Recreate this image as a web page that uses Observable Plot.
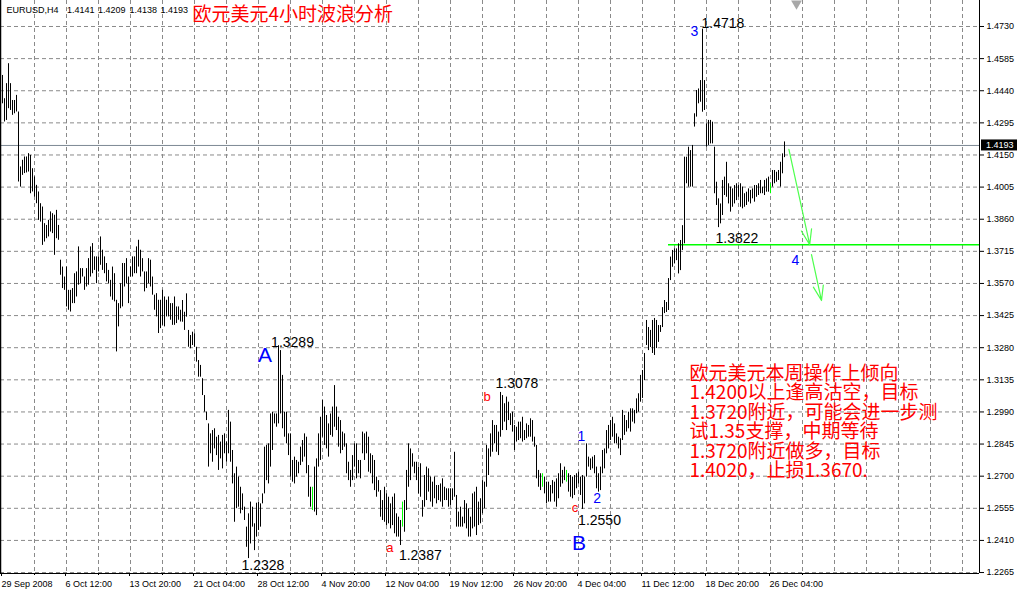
<!DOCTYPE html>
<html>
<head>
<meta charset="utf-8">
<script src="https://cdn.jsdelivr.net/npm/d3@7"></script>
<script src="https://cdn.jsdelivr.net/npm/@observablehq/plot@0.6"></script>
<style>
  html, body { margin: 0; padding: 0; background: #ffffff; }
  #chart svg { display: block; }
</style>
</head>
<body>
<div id="chart"></div>
<script>
// ---------------- DATA ----------------
const symbolName = "EURUSD,H4";
const headerOHLC = [1.4141, 1.4209, 1.4138, 1.4193];
const chartTitle = "欧元美元4小时波浪分析";

// H4 bar highs (bar index 0 = 29 Sep 2008 00:00)
const highs = [
  1.4509,1.4404,1.4472,1.4562,1.4472,1.4396,1.4396,1.4419,1.4344,1.4096,
  1.4126,1.4141,1.4141,1.4156,1.4148,1.4088,1.4051,1.4013,1.3983,1.3930,
  1.3915,1.3840,1.3832,1.3855,1.3893,1.3885,1.3878,1.3900,1.3832,1.3675,
  1.3644,1.3599,1.3644,1.3539,1.3539,1.3547,1.3614,1.3622,1.3735,1.3637,
  1.3637,1.3599,1.3637,1.3682,1.3735,1.3750,1.3690,1.3690,1.3690,1.3780,
  1.3720,1.3690,1.3660,1.3629,1.3584,1.3644,1.3614,1.3494,1.3479,1.3569,
  1.3660,1.3660,1.3682,1.3599,1.3644,1.3690,1.3690,1.3735,1.3765,1.3720,
  1.3682,1.3622,1.3622,1.3682,1.3675,1.3599,1.3517,1.3524,1.3494,1.3494,
  1.3539,1.3509,1.3494,1.3509,1.3479,1.3479,1.3509,1.3464,1.3464,1.3449,
  1.3493,1.3440,1.3523,1.3358,1.3335,1.3350,1.3343,1.3282,1.3222,1.3200,
  1.3140,1.3064,1.2989,1.2936,1.2891,1.2906,1.2914,1.2876,1.2884,1.2854,
  1.2884,1.2891,1.2854,1.2997,1.2944,1.2816,1.2711,1.2741,1.2696,1.2650,
  1.2620,1.2560,1.2470,1.2530,1.2583,1.2560,1.2485,1.2578,1.2583,1.2575,
  1.2620,1.2831,1.2839,1.2846,1.2981,1.2989,1.2981,1.2981,1.3289,1.3267,
  1.3155,1.2989,1.2989,1.2891,1.2891,1.2771,1.2786,1.2771,1.2763,1.2831,
  1.2861,1.2891,1.2876,1.2748,1.2650,1.2650,1.2741,1.2778,1.2891,1.2966,
  1.3042,1.3012,1.2974,1.2936,1.2981,1.3012,1.3109,1.3012,1.2966,1.2951,
  1.2899,1.2891,1.2846,1.2763,1.2726,1.2793,1.2846,1.2846,1.2771,1.2771,
  1.2899,1.2891,1.2899,1.2876,1.2801,1.2793,1.2771,1.2696,1.2680,1.2635,
  1.2590,1.2650,1.2620,1.2605,1.2575,1.2605,1.2620,1.2530,1.2515,1.2500,
  1.2583,1.2590,1.2726,1.2846,1.2823,1.2801,1.2763,1.2763,1.2741,1.2756,
  1.2590,1.2703,1.2741,1.2733,1.2696,1.2673,1.2696,1.2658,1.2658,1.2665,
  1.2688,1.2650,1.2643,1.2643,1.2643,1.2643,1.2808,1.2613,1.2538,1.2560,
  1.2515,1.2590,1.2575,1.2553,1.2515,1.2620,1.2628,1.2650,1.2583,1.2598,
  1.2680,1.2673,1.2839,1.2823,1.2891,1.2951,1.2929,1.2929,1.2899,1.3078,
  1.3064,1.3027,1.3057,1.3034,1.2982,1.2989,1.2929,1.2921,1.2944,1.2944,
  1.2966,1.2906,1.2936,1.2929,1.2959,1.2951,1.2876,1.2839,1.2726,1.2711,
  1.2711,1.2696,1.2673,1.2673,1.2658,1.2680,1.2673,1.2688,1.2711,1.2756,
  1.2726,1.2741,1.2726,1.2711,1.2703,1.2696,1.2703,1.2711,1.2718,1.2696,
  1.2703,1.2696,1.2846,1.2786,1.2778,1.2786,1.2793,1.2741,1.2711,1.2741,
  1.2816,1.2823,1.2906,1.2929,1.2951,1.2966,1.2936,1.2891,1.2876,1.2869,
  1.2997,1.2974,1.2951,1.2989,1.3004,1.3004,1.2997,1.3049,1.3072,1.3155,
  1.3177,1.3254,1.3403,1.3371,1.3358,1.3403,1.3412,1.3403,1.3380,1.3380,
  1.3461,1.3493,1.3484,1.3592,1.3689,1.3719,1.3726,1.3726,1.3749,1.3764,
  1.3831,1.4140,1.4140,1.4185,1.4170,1.4193,1.4336,1.4441,1.4448,1.4486,
  1.4718,1.4486,1.4291,1.4306,1.4306,1.4298,1.4185,1.4027,1.3952,1.3929,
  1.4035,1.4050,1.4117,1.4020,1.4005,1.3997,1.4012,1.4020,1.4012,1.4020,
  1.4005,1.3975,1.3982,1.3997,1.3990,1.3997,1.4012,1.4012,1.4020,1.4035,
  1.4005,1.4035,1.4042,1.4050,1.4020,1.4080,1.4080,1.4072,1.4080,1.4117,
  1.4155,1.4209
];

// H4 bar lows
const lows = [
  1.4381,1.4299,1.4306,1.4359,1.4351,1.4329,1.4336,1.4344,1.4028,1.4005,
  1.4058,1.4066,1.4069,1.4073,1.3975,1.3983,1.3960,1.3930,1.3855,1.3847,
  1.3742,1.3757,1.3772,1.3780,1.3802,1.3795,1.3697,1.3772,1.3765,1.3607,
  1.3547,1.3539,1.3464,1.3449,1.3441,1.3479,1.3479,1.3509,1.3562,1.3569,
  1.3599,1.3539,1.3554,1.3562,1.3599,1.3614,1.3629,1.3569,1.3622,1.3652,
  1.3629,1.3614,1.3577,1.3569,1.3509,1.3494,1.3487,1.3261,1.3374,1.3456,
  1.3464,1.3554,1.3569,1.3479,1.3599,1.3599,1.3614,1.3614,1.3644,1.3599,
  1.3622,1.3532,1.3547,1.3569,1.3554,1.3517,1.3449,1.3419,1.3344,1.3366,
  1.3381,1.3374,1.3419,1.3419,1.3404,1.3381,1.3381,1.3389,1.3404,1.3396,
  1.3395,1.3358,1.3418,1.3282,1.3275,1.3290,1.3282,1.3215,1.3147,1.3147,
  1.3064,1.2989,1.2951,1.2741,1.2801,1.2763,1.2823,1.2793,1.2726,1.2778,
  1.2733,1.2801,1.2763,1.2801,1.2763,1.2665,1.2492,1.2553,1.2560,1.2530,
  1.2545,1.2500,1.2379,1.2328,1.2394,1.2470,1.2364,1.2425,1.2455,1.2470,
  1.2575,1.2620,1.2680,1.2665,1.2741,1.2816,1.2936,1.2921,1.2936,1.2981,
  1.2914,1.2876,1.2846,1.2793,1.2696,1.2673,1.2665,1.2696,1.2711,1.2748,
  1.2763,1.2786,1.2711,1.2605,1.2560,1.2545,1.2538,1.2522,1.2741,1.2771,
  1.2876,1.2839,1.2823,1.2786,1.2884,1.2876,1.2921,1.2906,1.2831,1.2801,
  1.2816,1.2831,1.2711,1.2680,1.2650,1.2680,1.2741,1.2688,1.2711,1.2688,
  1.2801,1.2771,1.2801,1.2718,1.2711,1.2665,1.2635,1.2605,1.2628,1.2515,
  1.2500,1.2492,1.2477,1.2485,1.2462,1.2477,1.2440,1.2425,1.2425,1.2387,
  1.2470,1.2447,1.2545,1.2650,1.2680,1.2741,1.2711,1.2680,1.2620,1.2605,
  1.2515,1.2560,1.2590,1.2628,1.2583,1.2560,1.2598,1.2575,1.2590,1.2583,
  1.2560,1.2590,1.2590,1.2560,1.2568,1.2590,1.2605,1.2470,1.2470,1.2470,
  1.2470,1.2485,1.2462,1.2425,1.2425,1.2462,1.2470,1.2432,1.2477,1.2485,
  1.2530,1.2553,1.2650,1.2703,1.2786,1.2808,1.2846,1.2808,1.2793,1.2876,
  1.2906,1.2944,1.2906,1.2951,1.2929,1.2899,1.2816,1.2854,1.2861,1.2869,
  1.2854,1.2861,1.2869,1.2876,1.2876,1.2854,1.2831,1.2688,1.2650,1.2635,
  1.2650,1.2620,1.2575,1.2583,1.2583,1.2620,1.2583,1.2560,1.2598,1.2650,
  1.2665,1.2680,1.2673,1.2628,1.2605,1.2598,1.2613,1.2643,1.2665,1.2613,
  1.2550,1.2575,1.2696,1.2741,1.2726,1.2733,1.2711,1.2643,1.2628,1.2635,
  1.2711,1.2733,1.2801,1.2823,1.2861,1.2876,1.2846,1.2846,1.2823,1.2793,
  1.2861,1.2884,1.2899,1.2914,1.2899,1.2944,1.2936,1.2982,1.2989,1.3034,
  1.3051,1.3132,1.3290,1.3267,1.3281,1.3254,1.3245,1.3276,1.3304,1.3349,
  1.3371,1.3434,1.3439,1.3448,1.3583,1.3643,1.3658,1.3673,1.3613,1.3628,
  1.3719,1.3749,1.4020,1.4005,1.4005,1.4005,1.4276,1.4321,1.4381,1.4388,
  1.4343,1.4351,1.4185,1.4193,1.4200,1.4200,1.3975,1.3922,1.3822,1.3839,
  1.3877,1.3967,1.3959,1.3929,1.3892,1.3914,1.3929,1.3944,1.3959,1.3914,
  1.3907,1.3914,1.3922,1.3937,1.3929,1.3952,1.3937,1.3959,1.3967,1.3975,
  1.3975,1.3967,1.3982,1.3982,1.3975,1.4005,1.4020,1.4027,1.4035,1.4005,
  1.4065,1.4138
];

// bars drawn in green (unchanged / doji bars)
const greenBars = [155, 200, 270, 282, 384];

// axis ticks
const priceTicks = [1.2265,1.2410,1.2555,1.2700,1.2845,1.2990,1.3135,1.3280,1.3425,
                    1.3570,1.3715,1.3860,1.4005,1.4150,1.4295,1.4440,1.4585,1.4730];
const timeTickBars = [0,32,64,96,128,160,192,224,256,288,320,352,384];
const timeTickLabels = ["29 Sep 2008","6 Oct 12:00","13 Oct 20:00","21 Oct 04:00","28 Oct 12:00",
  "4 Nov 20:00","12 Nov 04:00","19 Nov 12:00","26 Nov 20:00","4 Dec 04:00",
  "11 Dec 12:00","18 Dec 20:00","26 Dec 04:00"];

// horizontal support level and projected path
const levelPrice = 1.3745;
const levelStartBar = 333;
const arrowFromBar   = [393.2, 404.5];
const arrowFromPrice = [1.4175, 1.3700];
const arrowToBar     = [403.6, 409.5];
const arrowToPrice   = [1.3745, 1.3493];

// wave annotations
const labelText  = ["1.4718","3","1.3822","4","A","1.3289","1.2328","a","1.2387","b","1.3078","1","2","c","1.2550","B"];
const labelKind  = ["price","wave","price","wave","major","price","price","minor","price","minor","price","wave","wave","minor","price","major"];
const labelBar   = [349.5,346,356.5,396.5,131.2,134.3,119.5,193.7,198.2,242.3,246.5,289.5,297.3,286.2,287.8,288.2];
const labelPrice = [1.4742,1.4709,1.3774,1.3674,1.3245,1.3305,1.2297,1.2375,1.2342,1.3060,1.3118,1.2879,1.2598,1.2556,1.2500,1.2397];

// trading note
const noteLines = [
  "欧元美元本周操作上倾向",
  "1.4200以上逢高沽空，目标",
  "1.3720附近，可能会进一步测",
  "试1.35支撑，中期等待",
  "1.3720附近做多，目标",
  "1.4020，止损1.3670."
];
const noteBar = 343.5;
const noteTopPrice = 1.3198;

// ---------------- CHART ----------------
const N = highs.length;
const barIdx = d3.range(N);
const greenSet = new Set(greenBars);
const lastClose = headerOHLC[3];
const xDomain = [-1, 488.5];
const yDomain = [1.226068, 1.484737];
const gridBars = d3.range(16, 489, 16);
const minorTimeTicks = timeTickBars.map(b => b + 16);

const latin = "'Liberation Sans', Arial, sans-serif";
const cjk = "'Noto Sans CJK SC', 'Noto Sans', sans-serif";
const gridStyle = {stroke: "#8a8a8a", strokeDasharray: "4,3", strokeWidth: 1};

const labels = labelText.map((t, k) => ({t, kind: labelKind[k], x: labelBar[k], y: labelPrice[k]}));
const kindStyle = {
  price: {fill: "#000", fontSize: 14, anchor: "start"},
  wave:  {fill: "#0000ff", fontSize: 14, anchor: "middle"},
  major: {fill: "#0000ff", fontSize: 21, anchor: "middle"},
  minor: {fill: "#ff0000", fontSize: 13, anchor: "middle"}
};
const labelMarks = Object.entries(kindStyle).map(([kind, s]) =>
  Plot.text(labels.filter(d => d.kind === kind), {
    x: "x", y: "y", text: "t", fill: s.fill, fontSize: s.fontSize,
    textAnchor: s.anchor, lineAnchor: "middle", fontFamily: latin
  })
);

const arrows = arrowFromBar.map((b, k) => ({x1: b, y1: arrowFromPrice[k], x2: arrowToBar[k], y2: arrowToPrice[k]}));

// header: symbol then O H L C, laid out in the top-left corner
const headerItems = [symbolName, ...headerOHLC.map(v => v.toFixed(4))];
const headerDx = [6, 66.5, 97.5, 129, 160];

const chart = Plot.plot({
  width: 1021,
  height: 594,
  marginLeft: 0,
  marginRight: 42,
  marginTop: 0,
  marginBottom: 21,
  x: {domain: xDomain, axis: null},
  y: {domain: yDomain, axis: null},
  style: {background: "#ffffff", fontFamily: latin, fontSize: "9px", color: "#000", overflow: "visible"},
  marks: [
    // grid
    Plot.ruleY(priceTicks, gridStyle),
    Plot.ruleX(gridBars, gridStyle),
    // current price line
    Plot.ruleY([lastClose], {stroke: "#7d8894", strokeWidth: 1}),
    // support level
    Plot.ruleY([levelPrice], {x1: levelStartBar, x2: xDomain[1], stroke: "#00ff00", strokeWidth: 1.5}),
    // price bars (high-low)
    Plot.ruleX(barIdx, {
      x: i => i, y1: i => lows[i], y2: i => highs[i],
      stroke: i => greenSet.has(i) ? "#00ff00" : "#000000", strokeWidth: 1
    }),
    // projected path arrows
    Plot.arrow(arrows, {x1: "x1", y1: "y1", x2: "x2", y2: "y2",
      stroke: "#4dff4d", strokeWidth: 1.2, headLength: 20, headAngle: 38}),
    // frame lines
    Plot.ruleY([yDomain[0]], {stroke: "#000"}),
    Plot.ruleX([xDomain[1]], {stroke: "#000"}),
    Plot.ruleX([xDomain[0]], {stroke: "#000", strokeWidth: 1.5}),
    // axes
    Plot.axisY(priceTicks, {anchor: "right", tickSize: 4, tickPadding: 3,
      tickFormat: d => d.toFixed(4), fontSize: 9, fill: "#000", stroke: "#000"}),
    Plot.axisX(timeTickBars, {anchor: "bottom", tickSize: 3, tickPadding: 4,
      tickFormat: (d, k) => timeTickLabels[k], textAnchor: "start", dx: -1, fontSize: 9, fill: "#000", stroke: "#000"}),
    Plot.axisX(minorTimeTicks, {anchor: "bottom", tickSize: 2, tickFormat: () => "", stroke: "#000"}),
    // header
    ...headerItems.map((t, k) => Plot.text([t], {text: d => d, frameAnchor: "top-left",
      dx: headerDx[k], dy: 6.5, fontSize: 9, fill: "#000", fontFamily: latin,
      textAnchor: "start", lineAnchor: "top"})),
    Plot.text([chartTitle], {text: d => d, frameAnchor: "top-left", dx: 192, dy: 14,
      fontSize: 19, fill: "#ff0000", fontFamily: cjk, textAnchor: "start", lineAnchor: "middle"}),
    // chart shift marker
    Plot.dot([N + 5], {x: d => d, frameAnchor: "top", dy: 3, symbol: "triangle", rotate: 180,
      r: 4, fill: "#a8a8a8", stroke: null}),
    // wave labels
    ...labelMarks,
    // note
    Plot.text([noteLines.join("\n")], {text: d => d, x: () => noteBar, y: () => noteTopPrice,
      fontSize: 19, lineHeight: 1.027, fill: "#ff0000", fontFamily: cjk,
      textAnchor: "start", lineAnchor: "top"})
  ]
});

document.getElementById("chart").appendChild(chart);

// current price tag on the price axis
const ys = chart.scale("y");
const xs = chart.scale("x");
const yy = ys.apply(lastClose);
const xr = xs.range[1];
const svg = d3.select(chart);
svg.append("rect").attr("x", xr + 2).attr("y", yy - 5.5).attr("width", 36).attr("height", 11).attr("fill", "#000");
svg.append("text").attr("x", xr + 7).attr("y", yy).attr("dy", "0.35em")
  .attr("text-anchor", "start")
  .attr("fill", "#fff").style("font-family", latin).style("font-size", "9px")
  .text(lastClose.toFixed(4));
</script>
</body>
</html>
